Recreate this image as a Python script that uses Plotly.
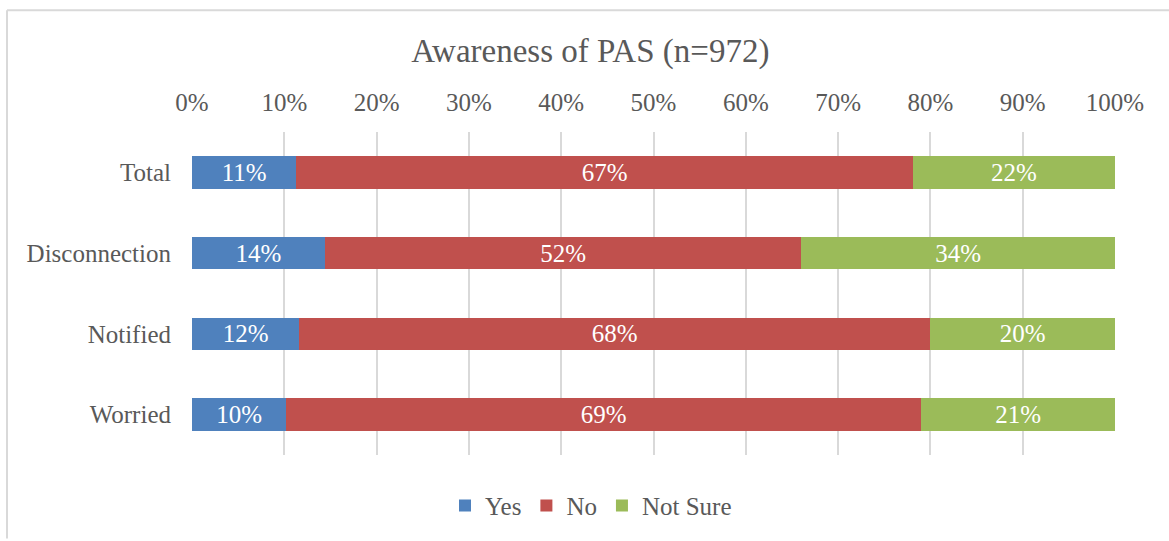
import plotly.graph_objects as go

categories = ["Total", "Disconnection", "Notified", "Worried"]
yes_vals = [11.3, 14.4, 11.6, 10.2]
no_vals = [66.8, 51.6, 68.4, 68.8]
notsure_vals = [21.9, 34.0, 20.0, 21.0]
tick_vals = [0, 10, 20, 30, 40, 50, 60, 70, 80, 90, 100]
tick_text = [f"{v}%" for v in tick_vals]

series = [("Yes", yes_vals, "#4F81BD"), ("No", no_vals, "#C0504D"), ("Not Sure", notsure_vals, "#9BBB59")]

FONT = "Liberation Serif"
GRAY = "#595959"
FS = 25

fig = go.Figure()
for name, vals, color in series:
    fig.add_trace(go.Bar(
        name=name, y=categories, x=vals, orientation="h",
        marker=dict(color=color, line=dict(width=0)),
        texttemplate="%{x:.0f}%", textposition="inside", insidetextanchor="middle",
        textfont=dict(color="white", size=FS, family=FONT),
        constraintext="none", hoverinfo="skip",
    ))

W, H = 1169, 541
l, r, t, b = 192, 54, 132, 84
pw, ph = W - l - r, H - t - b
def px(x): return (x - l) / pw
def py(y): return (H - b - y) / ph

fig.update_layout(
    width=W, height=H, barmode="stack", bargap=0.6,
    margin=dict(l=l, r=r, t=t, b=b),
    paper_bgcolor="white", plot_bgcolor="white",
    font=dict(family=FONT, color=GRAY, size=FS),
    title=dict(text="Awareness of PAS (n=972)", x=0.505, xref="container", xanchor="center",
               y=1 - 50 / H, yref="container", yanchor="middle",
               font=dict(size=33, family=FONT, color=GRAY)),
    xaxis=dict(range=[0, 100], side="top", tickvals=tick_vals, ticktext=tick_text,
               showgrid=True, gridcolor="#D9D9D9", gridwidth=2, zeroline=False,
               showline=False, ticks="", ticklabelstandoff=15,
               tickfont=dict(size=FS, family=FONT, color=GRAY)),
    yaxis=dict(categoryorder="array", categoryarray=categories[::-1],
               showgrid=False, showline=False, ticks="", ticklabelstandoff=20,
               tickfont=dict(size=FS, family=FONT, color=GRAY)),
    legend=dict(orientation="h", x=px(591), xanchor="center", y=py(508), yanchor="middle",
                font=dict(size=FS, family=FONT, color=GRAY), traceorder="normal",
                itemwidth=30, bgcolor="rgba(0,0,0,0)"),
    showlegend=True,
    shapes=[
        dict(type="line", xref="paper", yref="paper", x0=px(7), x1=px(W), y0=py(9.5), y1=py(9.5),
             line=dict(color="#D9D9D9", width=2)),
        dict(type="line", xref="paper", yref="paper", x0=px(7), x1=px(7), y0=py(9.5), y1=py(H),
             line=dict(color="#D9D9D9", width=2)),
    ],
)

fig.write_html("out.html", config={"displayModeBar": False},
               post_script="document.body.style.margin='0';")
